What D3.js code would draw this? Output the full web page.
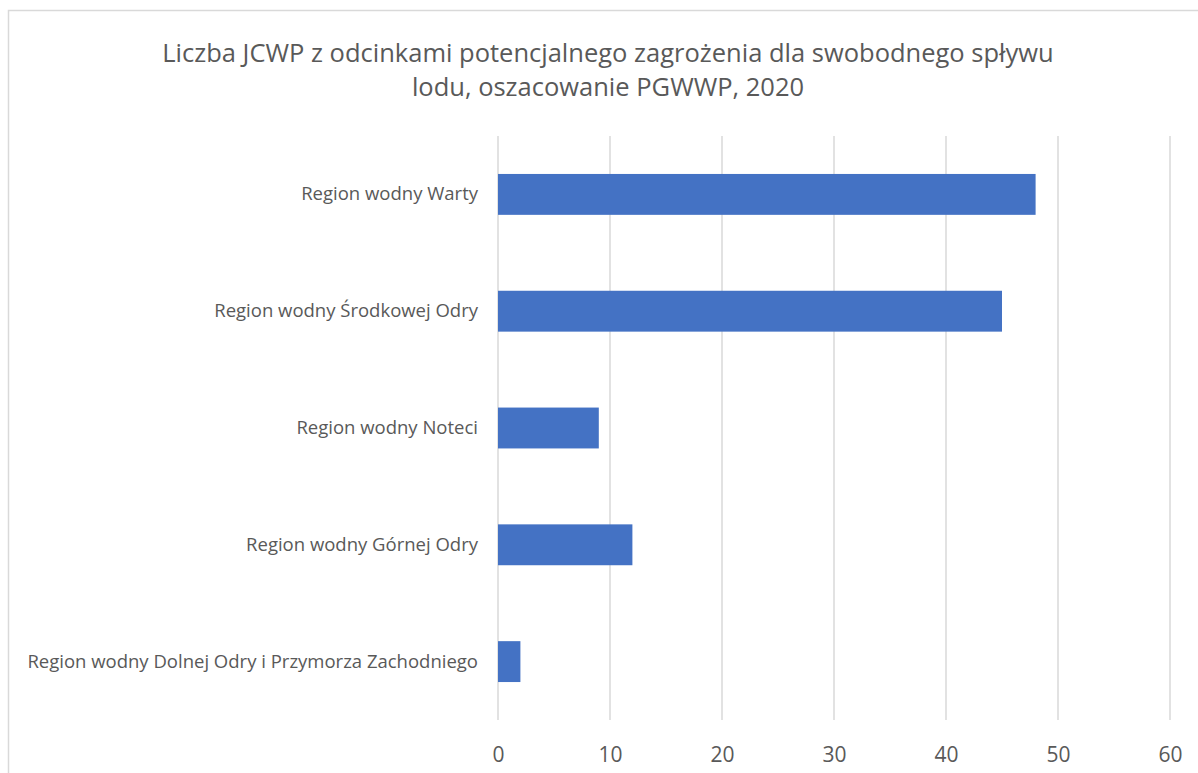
<!DOCTYPE html>
<html>
<head>
<meta charset="utf-8">
<script src="https://cdn.jsdelivr.net/npm/d3@7"></script>
<style>
  html, body { margin: 0; padding: 0; background: #ffffff; }
  svg { display: block; }
</style>
</head>
<body>
<svg id="chart" width="1198" height="773"></svg>
<script>
// Regions and counts of water bodies (JCWP) with ice-flow hazard sections
const categories = [
  "Region wodny Warty",
  "Region wodny Środkowej Odry",
  "Region wodny Noteci",
  "Region wodny Górnej Odry",
  "Region wodny Dolnej Odry i Przymorza Zachodniego"
];
const values = [48, 45, 9, 12, 2];
const xTicks = [0, 10, 20, 30, 40, 50, 60];
const titleLines = [
  "Liczba JCWP z odcinkami potencjalnego zagrożenia dla swobodnego spływu",
  "lodu, oszacowanie PGWWP, 2020"
];

const svg = d3.select("#chart");
const textColor = "#595959";
const font = "'Open Sans', 'Noto Sans', sans-serif";

// chart frame
svg.append("rect")
  .attr("x", 8.5).attr("y", 10.5)
  .attr("width", 1300).attr("height", 900)
  .attr("fill", "#ffffff")
  .attr("stroke", "#d9d9d9").attr("stroke-width", 1.5);

const plot = { left: 498, right: 1170, top: 136, bottom: 720 };

const x = d3.scaleLinear().domain([0, 60]).range([plot.left, plot.right]);
const y = d3.scaleBand().domain(categories).range([plot.top, plot.bottom]).paddingInner(0.65).paddingOuter(0.325);

// title
svg.append("g").selectAll("text")
  .data(titleLines)
  .join("text")
  .attr("x", 608)
  .attr("y", (d, i) => 62 + i * 34)
  .attr("text-anchor", "middle")
  .attr("font-family", font)
  .attr("font-size", 25.5)
  .attr("fill", textColor)
  .text(d => d);

// vertical gridlines
svg.append("g").selectAll("line")
  .data(xTicks)
  .join("line")
  .attr("x1", d => x(d)).attr("x2", d => x(d))
  .attr("y1", plot.top).attr("y2", plot.bottom)
  .attr("stroke", "#d9d9d9").attr("stroke-width", 1.5);

// bars
svg.append("g").selectAll("rect")
  .data(values)
  .join("rect")
  .attr("x", x(0))
  .attr("y", (d, i) => y(categories[i]))
  .attr("width", d => x(d) - x(0))
  .attr("height", y.bandwidth())
  .attr("fill", "#4472c4");

// category axis labels
const yAxis = d3.axisLeft(y).tickSize(0).tickPadding(20);
const gy = svg.append("g").attr("transform", `translate(${plot.left},0)`).call(yAxis);
gy.select(".domain").remove();
gy.selectAll("text")
  .attr("font-family", font)
  .attr("font-size", 18.5)
  .attr("fill", textColor);

// value axis labels
const xAxis = d3.axisBottom(x).tickValues(xTicks).tickSize(0).tickPadding(27);
const gx = svg.append("g").attr("transform", `translate(0,${plot.bottom})`).call(xAxis);
gx.select(".domain").remove();
gx.selectAll("text")
  .attr("font-family", font)
  .attr("font-size", 21)
  .attr("fill", textColor);
</script>
</body>
</html>
